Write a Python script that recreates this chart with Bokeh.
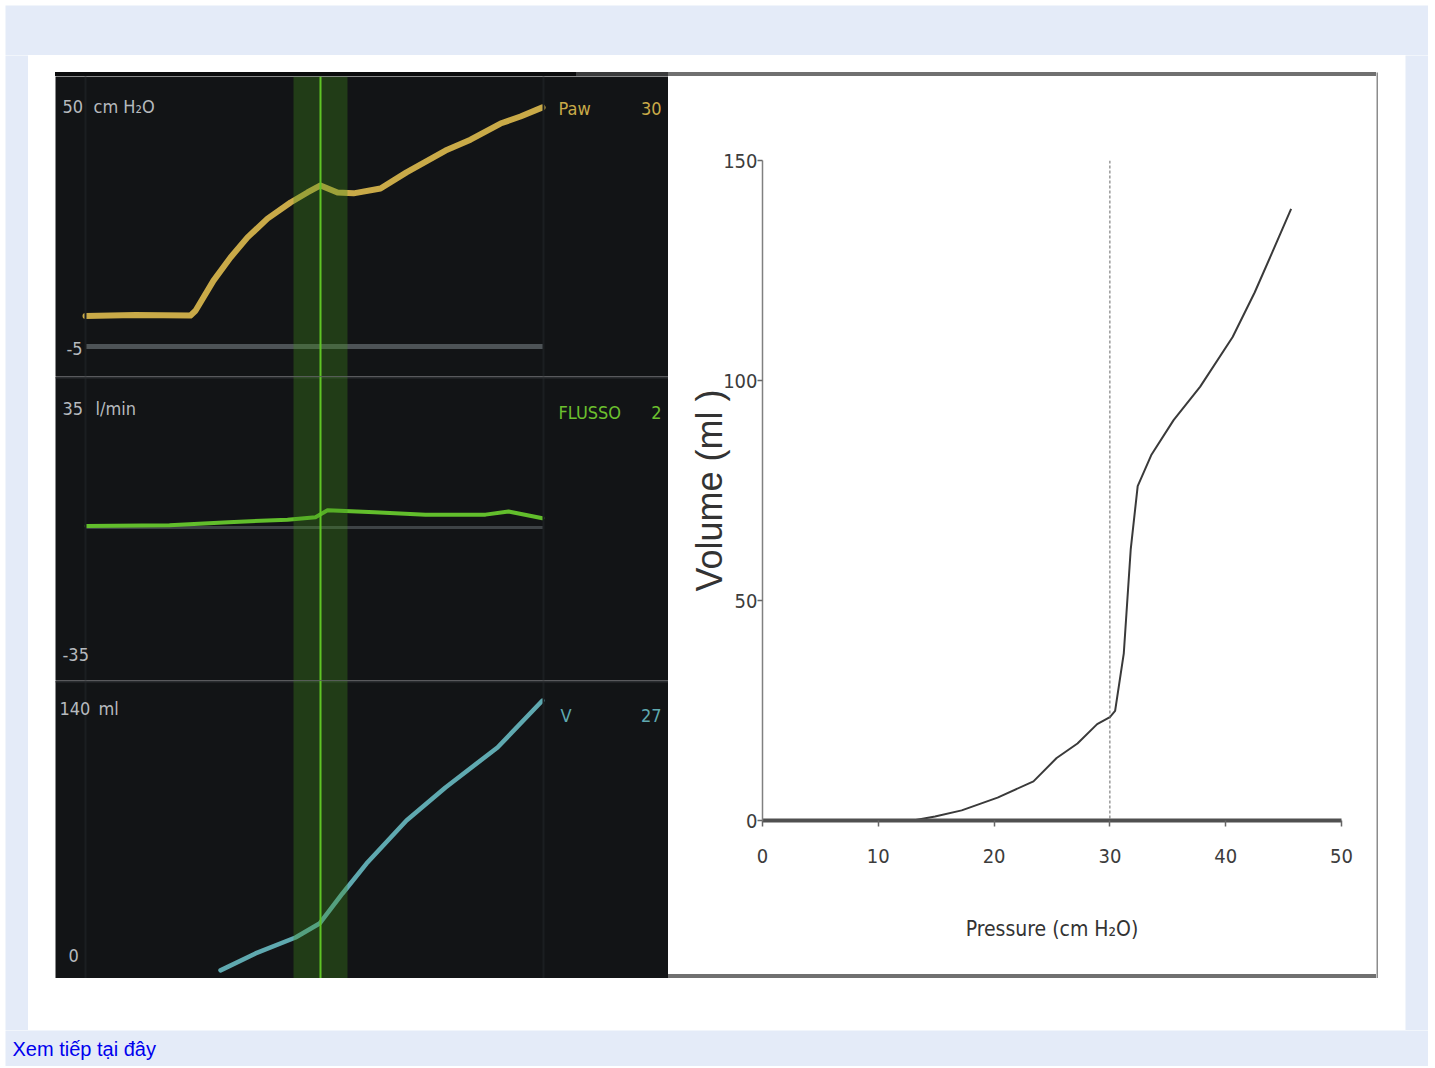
from bokeh.plotting import figure
from bokeh.layouts import row, column
from bokeh.models import Range1d, Label, Span, BoxAnnotation, FixedTicker, Div
from bokeh.embed import file_html
from bokeh.resources import INLINE

# ---------------- data ----------------
# Ventilator screen, time in seconds
paw_t = [0.00, 0.50, 1.05, 1.10, 1.28, 1.45, 1.62, 1.82, 2.05, 2.22, 2.35, 2.52, 2.68, 2.95, 3.21, 3.60, 3.85, 4.15, 4.35, 4.57]
paw_v = [2.0, 2.2, 2.1, 3.2, 10.1, 15.4, 20.0, 24.3, 28.0, 30.3, 31.9, 30.3, 30.1, 31.2, 34.9, 39.9, 42.4, 46.1, 47.7, 49.8]

flow_t = [0.01, 0.84, 1.43, 2.02, 2.30, 2.42, 2.89, 3.40, 4.00, 4.23, 4.57]
flow_v = [0.4, 0.6, 1.5, 2.2, 2.9, 4.8, 4.3, 3.6, 3.6, 4.5, 2.6]

vol_t = [1.35, 1.70, 2.10, 2.34, 2.57, 2.81, 3.21, 3.60, 4.12, 4.57]
vol_v = [-1.0, 8.1, 16.7, 24.2, 40.4, 56.5, 79.7, 97.5, 119.0, 144.3]

trace_start, trace_end = 0.0, 4.58
cursor_t = 2.35
band_t = [2.08, 2.62]

paw_scale = ["50", "-5"]
flow_scale = ["35", "-35"]
vol_scale = ["140", "0"]
readouts = ["30", "2", "27"]

# Pressure-volume curve
pv_p = [0, 13.0, 14.9, 17.2, 20.3, 23.4, 25.4, 27.2, 28.9, 30.0, 30.45, 31.2, 31.8, 32.4, 33.6, 35.5, 37.8, 40.6, 42.5, 44.0, 45.65]
pv_v = [0, 0, 0.9, 2.3, 5.2, 8.9, 14.2, 17.5, 21.9, 23.5, 24.9, 38.0, 61.7, 76.0, 83.2, 91.0, 98.6, 109.9, 120.0, 129.0, 139.0]
pv_xticks = [0, 10, 20, 30, 40, 50]
pv_yticks = [0, 50, 100, 150]
pv_marker = 30

# ---------------- styles ----------------
BLUE = "#E4EBF8"
DARK = "#121416"
NARROW = "Liberation Sans Narrow, DejaVu Sans Condensed, sans-serif"
SANS = "Liberation Sans, Arial, sans-serif"
GREY_TXT = "#B6BABE"
YEL = "#C9AA48"
GRN = "#62BE2C"
TEAL = "#5FA9B0"


def base(w, h, **kw):
    f = figure(width=w, height=h, toolbar_location=None, output_backend="svg",
               min_border=0, x_axis_type=None, y_axis_type=None, **kw)
    f.outline_line_color = None
    f.xgrid.visible = False
    f.ygrid.visible = False
    return f


def pad(w, h, color):
    f = base(w, h)
    f.background_fill_color = color
    f.border_fill_color = color
    return f


def strip(w, h, color):
    return Div(text="", width=w, height=h, margin=0,
               styles={"background-color": color, "padding": "0px", "margin": "0px"})


def lab(f, x, y, text, color, size="18px", align="left", font=NARROW):
    f.add_layout(Label(x=x, y=y, text=text, text_color=color, text_font_size=size,
                       text_align=align, text_baseline="middle", text_font=font))


def panel(h, y0, y1, top_sep=False):
    f = base(613, h, x_range=Range1d(-0.30, 5.83), y_range=Range1d(y0, y1))
    f.background_fill_color = DARK
    f.border_fill_color = DARK
    for loc in (trace_start, trace_end):
        f.add_layout(Span(location=loc, dimension="height", line_color="#1B1E21", line_width=2))
    if top_sep:
        f.add_layout(Span(location=y1, dimension="width", line_color="#2A2D30", line_width=4))
    return f


def decorate(f):
    f.add_layout(BoxAnnotation(left=band_t[0], right=band_t[1], fill_color="#3F8F1A",
                               fill_alpha=0.33, line_color=None))
    f.add_layout(Span(location=cursor_t, dimension="height", line_color="#5FC425", line_width=2))


# --- panel 1 : Paw ---
p1 = panel(300, -11.875, 56.875)
p1.line([trace_start, trace_end], [-5, -5], line_color="#4D5356", line_width=5)
p1.line(paw_t, paw_v, line_color=YEL, line_width=6, line_join="round", line_cap="round")
decorate(p1)
lab(p1, -0.23, 50, paw_scale[0], GREY_TXT)
lab(p1, 0.08, 50, "cm H₂O", GREY_TXT)
lab(p1, -0.19, -5.5, paw_scale[1], GREY_TXT)
lab(p1, 4.73, 49.5, "Paw", YEL)
lab(p1, 5.76, 49.5, readouts[0], YEL, align="right")

# --- panel 2 : flow ---
p2 = panel(304, -42.84, 42.28, top_sep=True)
p2.line([trace_start, trace_end], [0, 0], line_color="#3E4346", line_width=3)
p2.line(flow_t, flow_v, line_color=GRN, line_width=4, line_join="round", line_cap="round")
decorate(p2)
lab(p2, -0.23, 33.3, flow_scale[0], GREY_TXT)
lab(p2, 0.10, 33.3, "l/min", GREY_TXT)
lab(p2, -0.23, -35.6, flow_scale[1], GREY_TXT)
lab(p2, 4.73, 32.2, "FLUSSO", "#6CC02E")
lab(p2, 5.76, 32.2, readouts[1], "#6CC02E", align="right")

# --- panel 3 : volume ---
p3 = panel(298, -5.385, 155.08, top_sep=True)
p3.line(vol_t, vol_v, line_color=TEAL, line_width=4.5, line_join="round", line_cap="round")
decorate(p3)
lab(p3, -0.26, 140, vol_scale[0], GREY_TXT)
lab(p3, 0.13, 140, "ml", GREY_TXT)
lab(p3, -0.17, 7, vol_scale[1], GREY_TXT)
lab(p3, 4.75, 136, "V", TEAL)
lab(p3, 5.76, 136, readouts[2], TEAL, align="right")

left_col = column(row(strip(521, 4, "#0A0B0C"), strip(92, 4, "#3A3B3C")), p1, p2, p3)

# --- pressure-volume chart ---
pv = figure(width=708, height=898, toolbar_location=None, output_backend="svg",
            x_range=Range1d(0, 50), y_range=Range1d(0, 150),
            min_border_left=94, min_border_right=35, min_border_top=84, min_border_bottom=154)
pv.background_fill_color = "white"
pv.border_fill_color = "white"
pv.outline_line_color = None
pv.xgrid.visible = False
pv.ygrid.visible = False
pv.add_layout(Span(location=pv_marker, dimension="height", line_color="#666666",
                   line_width=1, line_dash="3 2"))
pv.line(pv_p, pv_v, line_color="#3A3A3A", line_width=2, line_join="round")

pv.xaxis.ticker = FixedTicker(ticks=pv_xticks)
pv.yaxis.ticker = FixedTicker(ticks=pv_yticks)
for ax in (pv.xaxis, pv.yaxis):
    ax.minor_tick_line_color = None
    ax.major_tick_in = 0
    ax.major_tick_line_color = "#666666"
    ax.major_tick_line_width = 1.5
    ax.major_label_text_font = NARROW
    ax.major_label_text_font_size = "20px"
    ax.major_label_text_color = "#3C3C3C"
    ax.axis_label_text_font_style = "normal"
    ax.axis_label_text_color = "#333333"
pv.xaxis.axis_line_width = 4
pv.xaxis.axis_line_color = "#505050"
pv.xaxis.major_tick_out = 6
pv.xaxis.major_label_standoff = 22
pv.xaxis.axis_label = "Pressure (cm H₂O)"
pv.xaxis.axis_label_text_font = NARROW
pv.xaxis.axis_label_text_font_size = "21px"
pv.xaxis.axis_label_standoff = 51
pv.yaxis.axis_line_width = 1.5
pv.yaxis.axis_line_color = "#808080"
pv.yaxis.major_tick_out = 5
pv.yaxis.major_label_standoff = 0
pv.yaxis.axis_label = "Volume (ml )"
pv.yaxis.axis_label_text_font = SANS
pv.yaxis.axis_label_text_font_size = "36px"
pv.yaxis.axis_label_standoff = -10

pv_col = column(strip(708, 4, "#707070"), pv, strip(708, 4, "#707070"))

mid = row(pad(27, 906, "white"), left_col, pv_col, pad(2, 906, "#8C8C8C"), pad(27, 906, "white"))
white_box = column(pad(1377, 17, "white"), mid, pad(1377, 52, "white"))
body = row(pad(23, 975, BLUE), white_box, pad(23, 975, BLUE))

link = base(1423, 36, x_range=Range1d(0, 1423), y_range=Range1d(36, 0))
link.background_fill_color = BLUE
link.border_fill_color = BLUE
link.add_layout(Label(x=7, y=7, text="Xem tiếp tại đây", text_color="#0000EE",
                      text_font_size="20px", text_baseline="top", text_font=SANS))

content = column(pad(1423, 50, BLUE), body, link)
page = column(pad(1428, 5, "white"), row(pad(5, 1061, "white"), content))

open("out.html", "w").write(file_html(page, INLINE))
